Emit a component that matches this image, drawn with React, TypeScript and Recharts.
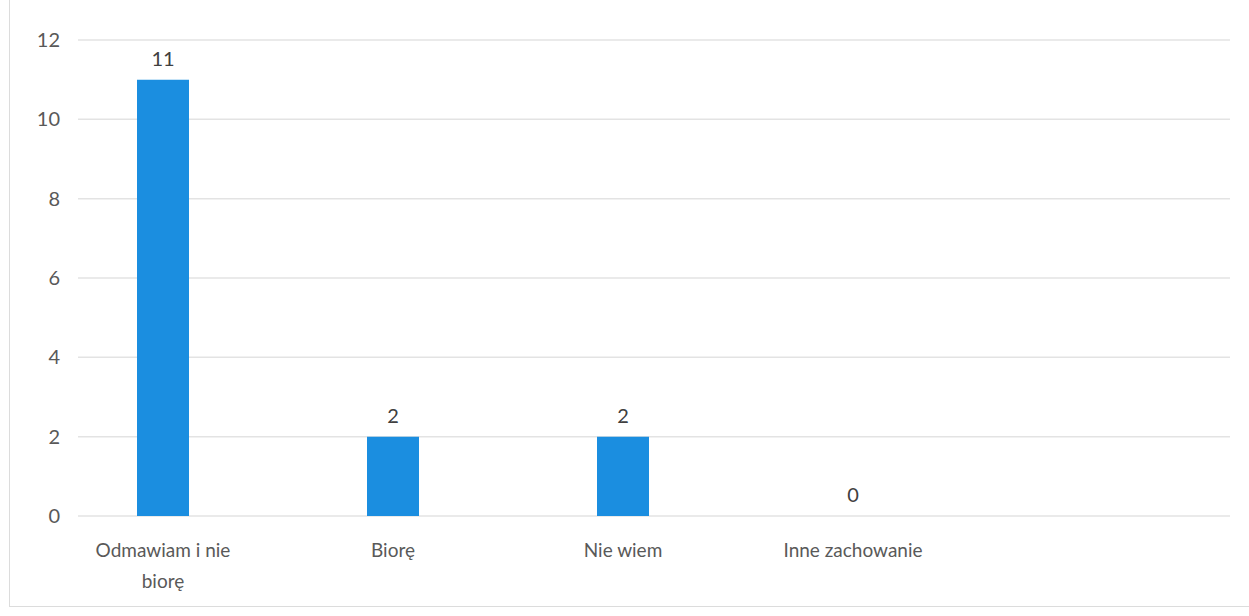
import React from 'react';
import { BarChart, Bar, XAxis, YAxis, CartesianGrid, LabelList } from 'recharts';

const categories = ['Odmawiam i nie biorę', 'Biorę', 'Nie wiem', 'Inne zachowanie'];
const values = [11, 2, 2, 0];
const yTicks = [0, 2, 4, 6, 8, 10, 12];

const data = categories.map((name, i) => ({ name, value: values[i] }));

const FONT = 'Lato, "Open Sans", sans-serif';

function wrap(text: string, maxChars: number): string[] {
  const words = text.split(' ');
  const lines: string[] = [];
  let cur = '';
  for (const w of words) {
    const next = cur ? cur + ' ' + w : w;
    if (next.length > maxChars && cur) {
      lines.push(cur);
      cur = w;
    } else {
      cur = next;
    }
  }
  if (cur) lines.push(cur);
  return lines;
}

const CategoryTick = (props: any) => {
  const { x, y, payload } = props;
  const lines = wrap(String(payload.value), 16);
  return (
    <text x={x} y={y} textAnchor="middle" fill="#595959" fontSize={19} fontFamily={FONT}>
      {lines.map((l, i) => (
        <tspan key={i} x={x} dy={i === 0 ? 41 : 31}>
          {l}
        </tspan>
      ))}
    </text>
  );
};

export default function App() {
  return (
    <div style={{ position: 'fixed', left: 0, top: 0, width: 1249, height: 616, background: '#fff' }}>
      <div
        style={{
          position: 'absolute',
          left: 9,
          top: 0,
          width: 1260,
          height: 606,
          borderLeft: '1px solid #dcdcdc',
          borderBottom: '1px solid #dcdcdc',
        }}
      />
      <BarChart
        width={1249}
        height={616}
        data={data}
        margin={{ top: 40, right: 19, bottom: 0, left: 0 }}
        style={{ position: 'absolute', left: 0, top: 0 }}
      >
        <CartesianGrid vertical={false} stroke="#e3e3e3" strokeWidth={1.5} />
        <XAxis
          dataKey="name"
          axisLine={false}
          tickLine={false}
          tickSize={0}
          tickMargin={0}
          interval={0}
          padding={{ left: -30, right: 262 }}
          tick={<CategoryTick />}
          height={100}
        />
        <YAxis
          domain={[0, 12]}
          ticks={yTicks}
          axisLine={false}
          tickLine={false}
          tickSize={0}
          tickMargin={18}
          width={78}
          tick={{ fill: '#595959', fontSize: 20, fontFamily: FONT }}
        />
        <Bar
          dataKey="value"
          fill="#1b8ee0"
          barSize={52}
          minPointSize={(v: number) => (v === 0 ? 0.01 : 0)}
          isAnimationActive={false}
        >
          <LabelList
            dataKey="value"
            position="top"
            offset={14}
            fill="#404040"
            fontSize={20}
            fontFamily={FONT}
          />
        </Bar>
      </BarChart>
    </div>
  );
}
